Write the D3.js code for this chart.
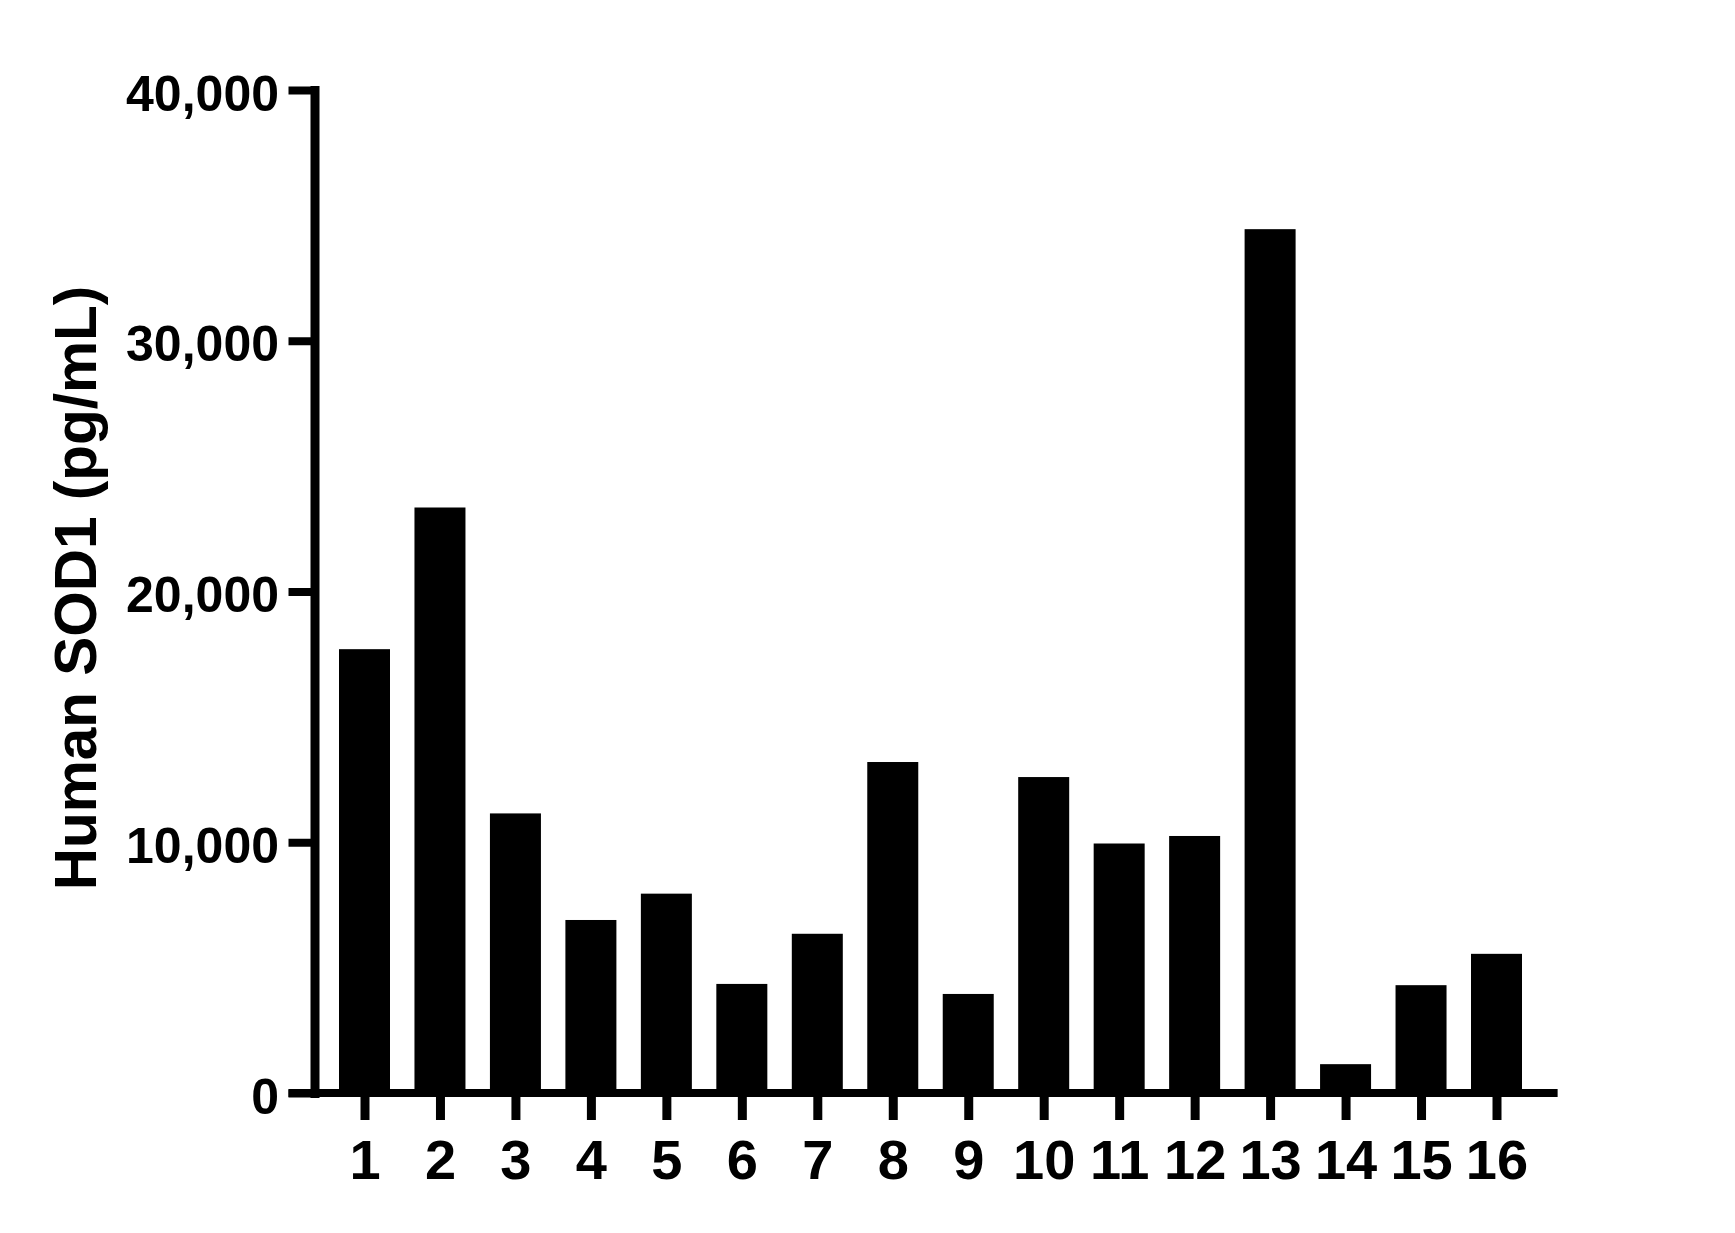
<!DOCTYPE html>
<html>
<head>
<meta charset="utf-8">
<script src="https://cdn.jsdelivr.net/npm/d3@7"></script>
<style>
  body { margin: 0; background: #fff; }
  text { font-family: "Liberation Sans", Arial, sans-serif; font-weight: bold; fill: #000; }
</style>
</head>
<body>
<div id="chart"></div>
<script>
// sample numbers on the x axis
var samples = ['1', '2', '3', '4', '5', '6', '7', '8', '9', '10', '11', '12', '13', '14', '15', '16'];
// SOD1 concentration, pg/mL
var sod1 = [17700, 23350, 11150, 6900, 7950, 4350, 6350, 13200, 3950, 12600, 9950, 10250, 34450, 1150, 4300, 5550];
var yTicks = [0, 10000, 20000, 30000, 40000];
var yLabel = 'Human SOD1 (pg/mL)';

var w = 1735, h = 1233,
    axisX = 314.5, baseY = 1093, topY = 90,
    barW = 51;

var svg = d3.select('#chart').append('svg')
  .attr('width', w)
  .attr('height', h);

var x = d3.scalePoint()
  .domain(samples)
  .range([364.5, 1496.5]);

var y = d3.scaleLinear()
  .domain([0, 40000])
  .range([baseY, topY]);

// bars
svg.selectAll('rect.bar')
  .data(sod1)
  .enter().append('rect')
  .attr('class', 'bar')
  .attr('x', function(d, i) { return x(samples[i]) - barW / 2; })
  .attr('y', function(d) { return y(d); })
  .attr('width', barW)
  .attr('height', function(d) { return baseY - y(d); })
  .attr('fill', '#000');

// y axis
var yAxis = svg.append('g')
  .attr('transform', 'translate(' + axisX + ',0)')
  .call(d3.axisLeft(y)
    .tickValues(yTicks)
    .tickFormat(d3.format(','))
    .tickSize(26)
    .tickSizeOuter(0)
    .tickPadding(9.5));
yAxis.select('.domain')
  .attr('stroke', '#000')
  .attr('stroke-width', 9)
  .attr('stroke-linecap', 'square');
yAxis.selectAll('.tick line')
  .attr('stroke', '#000')
  .attr('stroke-width', 8);
yAxis.selectAll('.tick text')
  .attr('dy', '0.4em')
  .style('font-size', '50px');

// x axis
var step = x.step();
svg.append('line')
  .attr('x1', axisX - 26)
  .attr('x2', x.range()[1] + step * 0.81)
  .attr('y1', baseY)
  .attr('y2', baseY)
  .attr('stroke', '#000')
  .attr('stroke-width', 8);

var xAxis = svg.append('g')
  .attr('transform', 'translate(0,' + baseY + ')')
  .call(d3.axisBottom(x).tickSize(27).tickSizeOuter(0));
xAxis.select('.domain').remove();
xAxis.selectAll('.tick line')
  .attr('stroke', '#000')
  .attr('stroke-width', 9);
xAxis.selectAll('.tick text')
  .attr('y', 86)
  .attr('dy', 0)
  .style('font-size', '56px');

// y axis title
svg.append('text')
  .attr('transform', 'translate(96,' + 588 + ') rotate(-90)')
  .attr('text-anchor', 'middle')
  .style('font-size', '58.5px')
  .text(yLabel);
</script>
</body>
</html>
